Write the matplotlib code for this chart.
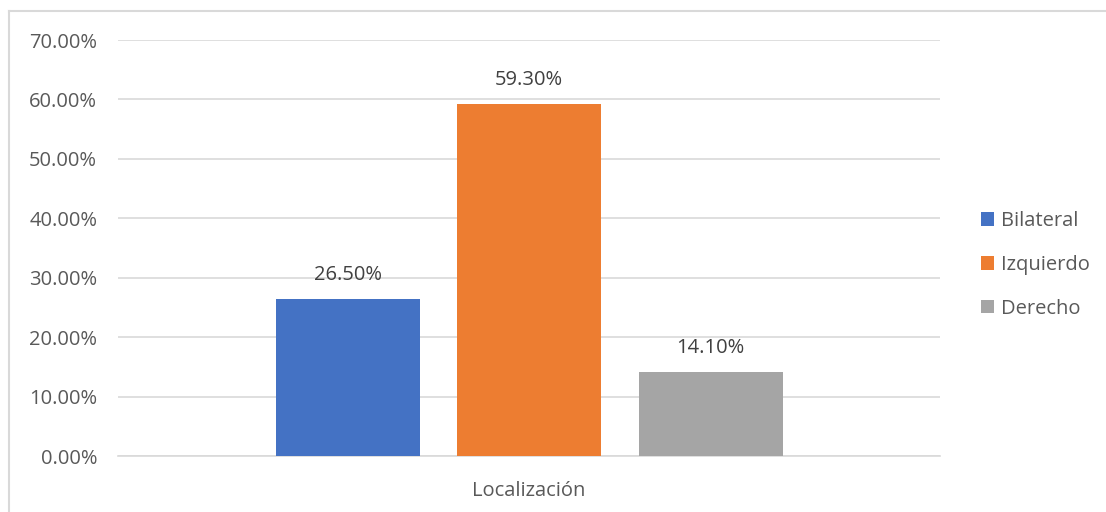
import matplotlib

matplotlib.use("Agg")
import matplotlib.pyplot as plt
from matplotlib.lines import Line2D

plt.rcParams["font.family"] = ["Open Sans", "DejaVu Sans"]

CATEGORY = "Localización"
SERIES = ["Bilateral", "Izquierdo", "Derecho"]
VALUES = [26.5, 59.3, 14.1]
COLORS = ["#4472C4", "#ED7D31", "#A5A5A5"]
Y_TICKS = [0, 10, 20, 30, 40, 50, 60, 70]

TEXT = "#595959"
LABEL = "#404040"
GRID = "#D9D9D9"
FS = 14.5

W, H = 1106, 512
fig = plt.figure(figsize=(W / 100, H / 100), dpi=100)
ax = fig.add_axes([118 / W, 56 / H, (940 - 118) / W, (456 - 40) / H])

# light frame along the top and left edges of the chart area
for xs, ys in [((8.5 / W, 1.0), (1 - 11 / H, 1 - 11 / H)),
               ((8.5 / W, 8.5 / W), (0.0, 1 - 11 / H))]:
    fig.add_artist(Line2D(xs, ys, transform=fig.transFigure, color=GRID, linewidth=1.5))

offsets = [-0.220, 0.0, 0.221]
width = 0.175
for off, name, val, col in zip(offsets, SERIES, VALUES, COLORS):
    ax.bar(off, val, width=width, color=col, label=name, zorder=3)
    ax.annotate(f"{val:.2f}%", (off, val), xytext=(0, 10), textcoords="offset points",
                ha="center", va="bottom", fontsize=FS, color=LABEL)

ax.set_xlim(-0.5, 0.5)
ax.set_ylim(0, 70)
ax.set_yticks(Y_TICKS)
ax.set_yticklabels([f"{t:.2f}%" for t in Y_TICKS])
ax.yaxis.grid(True, color=GRID, linewidth=1.2, zorder=0)
ax.set_xticks([0])
ax.set_xticklabels([CATEGORY])
ax.tick_params(axis="both", length=0, labelsize=FS, labelcolor=TEXT)
ax.tick_params(axis="y", pad=15)
ax.tick_params(axis="x", pad=18)
for side in ["top", "right", "left"]:
    ax.spines[side].set_visible(False)
ax.spines["bottom"].set_color(GRID)
ax.spines["bottom"].set_linewidth(1.2)

fig.legend(loc="center left", bbox_to_anchor=(963 / W, 1 - 265 / H), frameon=False,
           fontsize=FS, labelcolor=TEXT, handlelength=0.65, handleheight=0.65,
           handletextpad=0.35, labelspacing=1.18)

fig.savefig("out.png", dpi=100)
